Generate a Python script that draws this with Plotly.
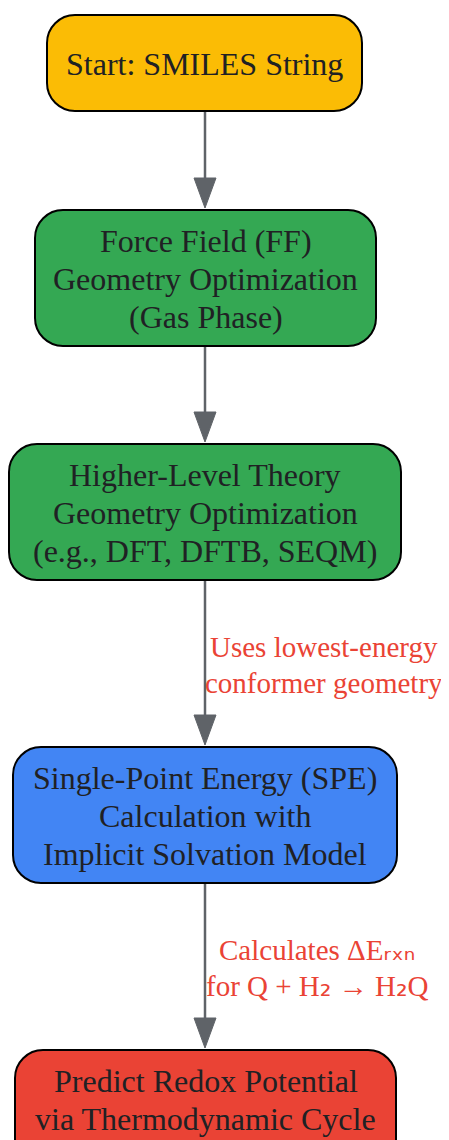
import plotly.graph_objects as go

# ---- data ----
node_labels = [
    "Start: SMILES String",
    "Force Field (FF)<br>Geometry Optimization<br>(Gas Phase)",
    "Higher-Level Theory<br>Geometry Optimization<br>(e.g., DFT, DFTB, SEQM)",
    "Single-Point Energy (SPE)<br>Calculation with<br>Implicit Solvation Model",
    "Predict Redox Potential<br>via Thermodynamic Cycle",
]
node_colors = ["#FBBC05", "#34A853", "#34A853", "#4285F4", "#EA4335"]
node_left = [47, 35, 9, 13, 15]
node_right = [362, 376, 401, 397, 396]
node_top = [15, 210, 444, 747, 1050]
node_bottom = [111, 346, 580, 883, 1168]

SUB = "<span style='font-family:DejaVu Sans'>{}</span>"
# label of the edge leaving node i
edge_labels = ["", "", "Uses lowest-energy<br>conformer geometry",
               "Calculates ΔE" + SUB.format("ᵣₓₙ") + "<br>for Q + H" + SUB.format("₂")
               + " → H" + SUB.format("₂") + "Q"]
edge_label_x = [0, 0, 324, 317]

W, H = 449, 1140
OFF = 8  # page body offset
EDGE_COLOR = "#5F6368"
TEXT_COLOR = "#202124"
LABEL_COLOR = "#EA4335"
FONT = "Liberation Serif, Times New Roman, serif"


def rounded_rect(x0, y0, x1, y1, r):
    k = 0.5523 * r
    return (f"M {x0+r},{y0} L {x1-r},{y0} "
            f"C {x1-r+k},{y0} {x1},{y0+r-k} {x1},{y0+r} "
            f"L {x1},{y1-r} "
            f"C {x1},{y1-r+k} {x1-r+k},{y1} {x1-r},{y1} "
            f"L {x0+r},{y1} "
            f"C {x0+r-k},{y1} {x0},{y1-r+k} {x0},{y1-r} "
            f"L {x0},{y0+r} "
            f"C {x0},{y0+r-k} {x0+r-k},{y0} {x0+r},{y0} Z")


def text_lines(text, cx, cy, spacing, size, color):
    lines = text.split("<br>")
    n = len(lines)
    out = []
    for j, ln in enumerate(lines):
        out.append(dict(x=cx, y=cy + (j - (n - 1) / 2) * spacing, xref="x", yref="y",
                        text=ln, showarrow=False, align="center",
                        xanchor="center", yanchor="middle",
                        font=dict(family=FONT, size=size, color=color)))
    return out


fig = go.Figure()
shapes = []
annotations = []

for i, lab in enumerate(node_labels):
    x0, x1, y0, y1 = node_left[i], node_right[i], node_top[i], node_bottom[i]
    shapes.append(dict(type="path", path=rounded_rect(x0, y0, x1, y1, 28),
                       xref="x", yref="y", fillcolor=node_colors[i],
                       line=dict(color="#000000", width=2), layer="above"))
    cy = (y0 + y1) / 2 + 1 if i < 4 else y0 + 50
    annotations += text_lines(lab, (x0 + x1) / 2, cy, 38, 32, TEXT_COLOR)

head_len, head_hw = 30, 11
for i in range(len(node_labels) - 1):
    xs = 205
    ys = node_bottom[i]
    ye = node_top[i + 1] - 2
    shapes.append(dict(type="line", x0=xs, x1=xs, y0=ys, y1=ye - head_len + 2,
                       xref="x", yref="y", line=dict(color=EDGE_COLOR, width=2.5),
                       layer="below"))
    shapes.append(dict(type="path",
                       path=f"M {xs-head_hw},{ye-head_len} L {xs+head_hw},{ye-head_len} L {xs},{ye} Z",
                       xref="x", yref="y", fillcolor=EDGE_COLOR,
                       line=dict(color=EDGE_COLOR, width=1)))
    if edge_labels[i]:
        annotations += text_lines(edge_labels[i], edge_label_x[i],
                                  (ys + node_top[i + 1]) / 2 + 1, 36, 29, LABEL_COLOR)

fig.update_layout(
    width=W, height=H,
    margin=dict(l=0, r=0, t=0, b=0),
    paper_bgcolor="white", plot_bgcolor="white",
    xaxis=dict(range=[OFF, W + OFF], visible=False, fixedrange=True),
    yaxis=dict(range=[H + OFF, OFF], visible=False, fixedrange=True),
    shapes=shapes, annotations=annotations, showlegend=False,
)
fig.write_html("out.html")
